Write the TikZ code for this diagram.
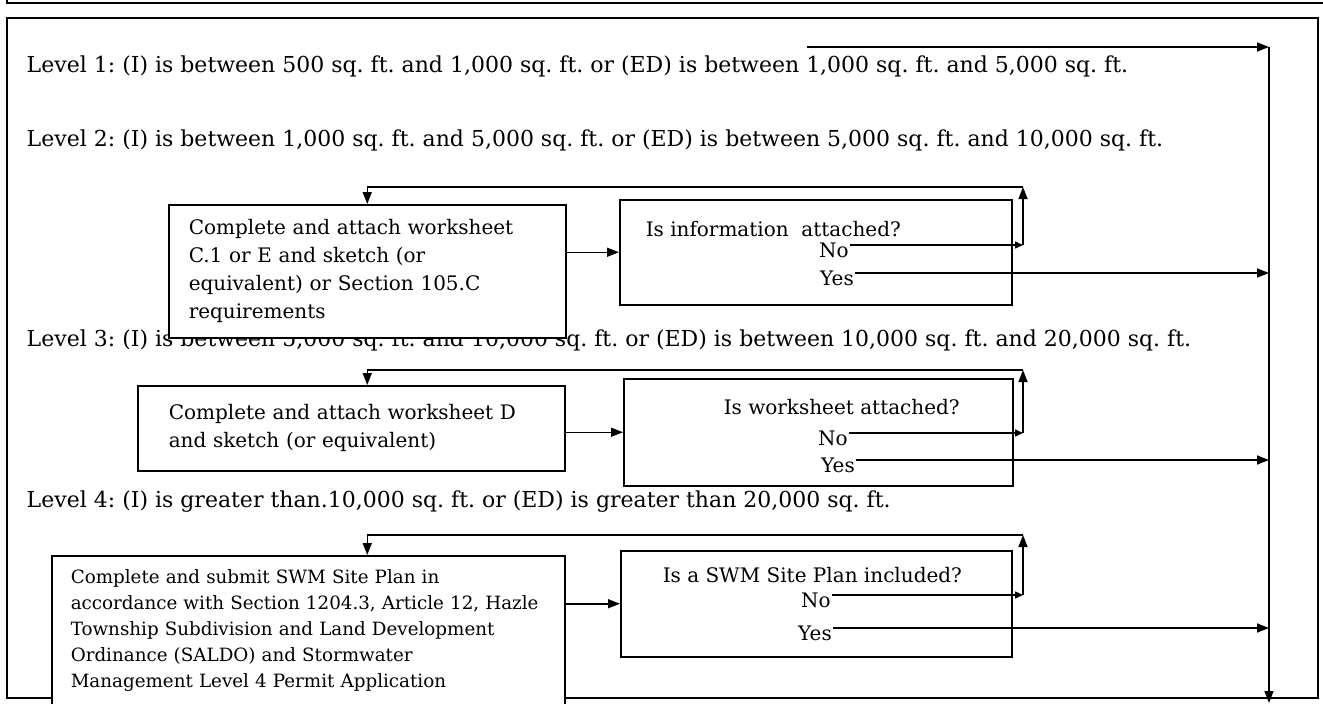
\documentclass[tikz,border=0pt]{standalone}
\usepackage{fontspec}
\setmainfont{DejaVu Serif}
\usetikzlibrary{arrows.meta,positioning,calc}
\frenchspacing

\begin{document}
\begin{tikzpicture}[x=1pt,y=-1pt,line width=1.5pt,
    >={Triangle[length=12pt,width=9pt]},
    every node/.style={font=\fontsize{20}{28}\selectfont},
    lvl/.style={anchor=west,inner sep=0pt,font=\fontsize{22}{28}\selectfont},
    taskbox/.style={draw,fill=white,align=left,anchor=north west,inner ysep=0pt},
    askbox/.style={draw,fill=white,anchor=north west,inner sep=0pt},
    ask/.style={anchor=west,inner sep=0pt},
    ans/.style={inner sep=0pt,text height=24pt,text depth=0pt},
    tip/.style={-{Triangle[length=8pt,width=7pt]}}]
  \useasboundingbox (0,0) rectangle (1323,704);

  % page frame and edge of the box above
  \draw (7,-4) -- (7,3) -- (1330,3);
  \draw (7,18) rectangle (1318,698);

  % the four levels
  \node[lvl] (lvl1) at (26,66) {Level 1: (I) is between 500 sq. ft. and 1,000 sq. ft. or (ED) is between 1,000 sq. ft. and 5,000 sq. ft.};
  \node[lvl] (lvl2) at (26,140) {Level 2: (I) is between 1,000 sq. ft. and 5,000 sq. ft. or (ED) is between 5,000 sq. ft. and 10,000 sq. ft.};
  \node[lvl] (lvl3) at (26,340) {Level 3: (I) is between 5,000 sq. ft. and 10,000 sq. ft. or (ED) is between 10,000 sq. ft. and 20,000 sq. ft.};
  \node[lvl] (lvl4) at (26,502) {Level 4: (I) is greater than.10,000 sq. ft. or (ED) is greater than 20,000 sq. ft.};

  % what to do
  \node[taskbox,minimum height=133pt,text width=357pt,inner xsep=20pt] (work1) at (168,204)
    {Complete and attach worksheet\\C.1 or E and sketch (or\\equivalent) or Section 105.C\\requirements};
  \node[taskbox,minimum height=85pt,text width=365pt,inner xsep=31pt] (work3) at (137,385)
    {Complete and attach worksheet D\\and sketch (or equivalent)};
  \node[taskbox,minimum height=150pt,text width=475pt,inner xsep=19pt,
        font=\fontsize{18.3}{26}\selectfont] (work5) at (51,555)
    {Complete and submit SWM Site Plan in\\accordance with Section 1204.3, Article 12, Hazle\\Township Subdivision and Land Development\\Ordinance (SALDO) and Stormwater\\Management Level 4 Permit Application};

  % checks
  \node[askbox,minimum width=392pt,minimum height=105pt] (ask1) at (619,199) {};
  \node[askbox,minimum width=389pt,minimum height=107pt] (ask2) at (623,378) {};
  \node[askbox,minimum width=391pt,minimum height=106pt] (ask3) at (620,550) {};

  \node[ask] (q1) at (645,229) {Is information~ attached?};
  \node[ask] (q2) at (723,407) {Is worksheet attached?};
  \node[ask] (q3) at (662,575) {Is a SWM Site Plan included?};

  \node[ans] (no1) at (834,245) {No};
  \node[ans] (yes1) at (837,273) {Yes};
  \node[ans] (no2) at (833,433) {No};
  \node[ans] (yes2) at (838,460) {Yes};
  \node[ans] (no3) at (816,595) {No};
  \node[ans] (yes3) at (815,628) {Yes};

  \coordinate (lvl1from) at (807,47);
  \coordinate (busTop) at (1269,47);
  \coordinate (busEnd) at (1269,703);
  \coordinate (back1) at (1023,187);
  \coordinate (back2) at (1023,370);
  \coordinate (back3) at (1023,535);

  \draw[->] (lvl1from) -- (busTop);
  \draw[->] (busTop) -- (busEnd);

  \draw[->] (work1.east |- ask1.west) -- (ask1.west);
  \draw[->] (work3.east |- ask2.west) -- (ask2.west);
  \draw[->] (work5.east |- ask3.west) -- (ask3.west);

  \draw[tip] (no1.east) -- (no1.east -| back1);
  \draw[->] (no1.east -| back1) -- (back1);
  \draw[->] (back1) -| (work1.north);
  \draw[tip] (no2.east) -- (no2.east -| back2);
  \draw[->] (no2.east -| back2) -- (back2);
  \draw[->] (back2) -| (work1.north |- work3.north);
  \draw[tip] (no3.east) -- (no3.east -| back3);
  \draw[->] (no3.east -| back3) -- (back3);
  \draw[->] (back3) -| (work1.north |- work5.north);

  \draw[->] (yes1.east) -- (yes1.east -| busTop);
  \draw[->] (yes2.east) -- (yes2.east -| busTop);
  \draw[->] (yes3.east) -- (yes3.east -| busTop);
\end{tikzpicture}
\end{document}
